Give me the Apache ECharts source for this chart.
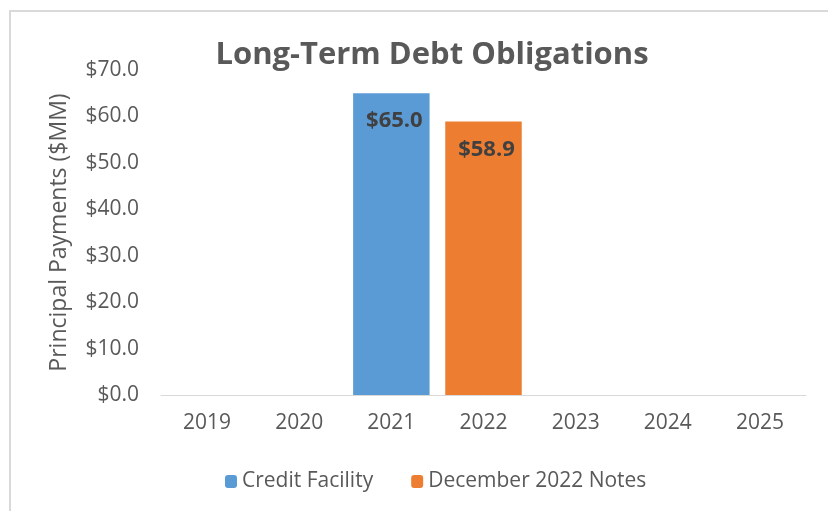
<!DOCTYPE html>
<html>
<head>
<meta charset="utf-8">
<script src="https://cdn.jsdelivr.net/npm/echarts@6/dist/echarts.min.js"></script>
<style>
  html, body { margin: 0; padding: 0; background: #fff; }
  #debt-chart { width: 828px; height: 511px; }
</style>
</head>
<body>
<div id="debt-chart"></div>
<script>
const years = ['2019', '2020', '2021', '2022', '2023', '2024', '2025']
const creditFacility = [0, 0, 65.0, 0, 0, 0, 0]
const december2022Notes = [0, 0, 0, 58.9, 0, 0, 0]

const myChart = echarts.init(document.getElementById('debt-chart'))
const font = '"Open Sans", sans-serif'

// labels only on the bars that have a payment
const labelOpt = {
  show: true,
  position: 'insideTop',
  distance: 17,
  offset: [3, 0],
  fontFamily: font,
  fontWeight: 'bold',
  fontSize: 22,
  color: '#404040',
  formatter: p => (p.value ? '$' + p.value.toFixed(1) : '')
}

let option = {
  animation: false,
  graphic: [{
    type: 'rect',
    shape: { x: 10, y: 11, width: 830, height: 520 },
    style: { fill: 'none', stroke: '#d9d9d9', lineWidth: 2 }
  }],
  title: {
    text: 'Long-Term Debt Obligations',
    left: 427,
    top: 35,
    textAlign: 'center',
    textStyle: { fontFamily: font, fontSize: 31, fontWeight: 'bold', color: '#595959' }
  },
  legend: {
    data: ['Credit Facility', 'December 2022 Notes'],
    top: 466,
    left: 220,
    itemWidth: 12,
    itemHeight: 13,
    itemGap: 38,
    textStyle: { fontFamily: font, fontSize: 21, color: '#595959' }
  },
  grid: { left: 161, right: 22, top: 70, bottom: 116 },
  xAxis: {
    type: 'category',
    data: years,
    axisLine: { lineStyle: { color: '#d9d9d9' } },
    axisTick: { length: 8, lineStyle: { color: '#d9d9d9' } },
    axisLabel: { fontFamily: font, fontSize: 21, color: '#595959', margin: 18 }
  },
  yAxis: {
    type: 'value',
    min: 0,
    max: 70,
    interval: 10,
    name: 'Principal Payments ($MM)',
    nameLocation: 'middle',
    nameGap: 90,
    nameTextStyle: { fontFamily: font, fontSize: 23, color: '#595959' },
    splitLine: { show: false },
    axisLine: { show: false },
    axisLabel: {
      fontFamily: font, fontSize: 21, color: '#595959', margin: 22,
      formatter: v => '$' + v.toFixed(1)
    }
  },
  series: [
    {
      name: 'Credit Facility',
      type: 'bar',
      stack: 'debt',
      barWidth: '83%',
      data: creditFacility,
      itemStyle: { color: '#5b9bd5' },
      label: labelOpt
    },
    {
      name: 'December 2022 Notes',
      type: 'bar',
      stack: 'debt',
      data: december2022Notes,
      itemStyle: { color: '#ed7d31' },
      label: labelOpt
    }
  ]
}

myChart.setOption(option)
</script>
</body>
</html>
